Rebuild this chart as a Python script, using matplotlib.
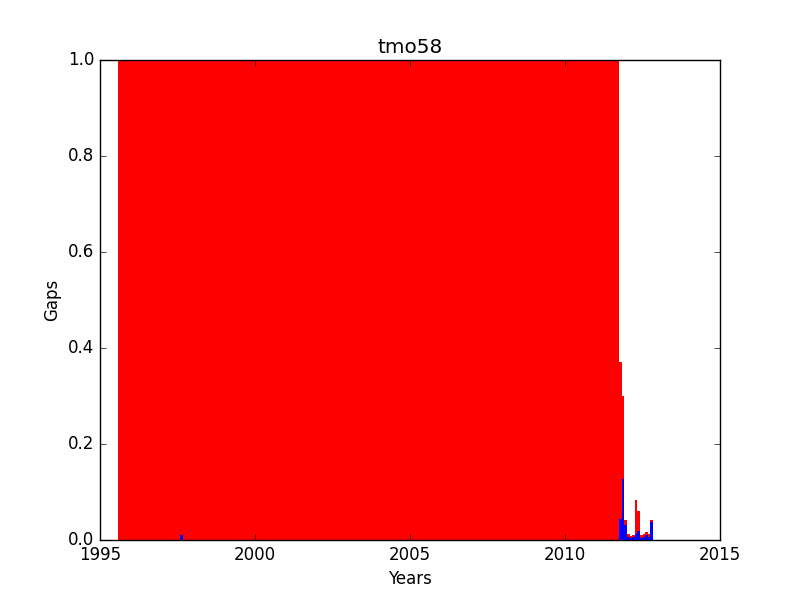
import matplotlib
matplotlib.use('Agg')
import matplotlib.pyplot as plt
import numpy as np

# monthly gap fractions, first month is Aug 1995
first_year = 1995
first_month = 8

red_gaps = [
    1.0, 1.0, 1.0, 1.0, 1.0,                                                  # 1995 Aug-Dec
    1.0, 1.0, 1.0, 1.0, 1.0, 1.0, 1.0, 1.0, 1.0, 1.0, 1.0, 1.0,               # 1996
    1.0, 1.0, 1.0, 1.0, 1.0, 1.0, 1.0, 1.0, 1.0, 1.0, 1.0, 1.0,               # 1997
    1.0, 1.0, 1.0, 1.0, 1.0, 1.0, 1.0, 1.0, 1.0, 1.0, 1.0, 1.0,               # 1998
    1.0, 1.0, 1.0, 1.0, 1.0, 1.0, 1.0, 1.0, 1.0, 1.0, 1.0, 1.0,               # 1999
    1.0, 1.0, 1.0, 1.0, 1.0, 1.0, 1.0, 1.0, 1.0, 1.0, 1.0, 1.0,               # 2000
    1.0, 1.0, 1.0, 1.0, 1.0, 1.0, 1.0, 1.0, 1.0, 1.0, 1.0, 1.0,               # 2001
    1.0, 1.0, 1.0, 1.0, 1.0, 1.0, 1.0, 1.0, 1.0, 1.0, 1.0, 1.0,               # 2002
    1.0, 1.0, 1.0, 1.0, 1.0, 1.0, 1.0, 1.0, 1.0, 1.0, 1.0, 1.0,               # 2003
    1.0, 1.0, 1.0, 1.0, 1.0, 1.0, 1.0, 1.0, 1.0, 1.0, 1.0, 1.0,               # 2004
    1.0, 1.0, 1.0, 1.0, 1.0, 1.0, 1.0, 1.0, 1.0, 1.0, 1.0, 1.0,               # 2005
    1.0, 1.0, 1.0, 1.0, 1.0, 1.0, 1.0, 1.0, 1.0, 1.0, 1.0, 1.0,               # 2006
    1.0, 1.0, 1.0, 1.0, 1.0, 1.0, 1.0, 1.0, 1.0, 1.0, 1.0, 1.0,               # 2007
    1.0, 1.0, 1.0, 1.0, 1.0, 1.0, 1.0, 1.0, 1.0, 1.0, 1.0, 1.0,               # 2008
    1.0, 1.0, 1.0, 1.0, 1.0, 1.0, 1.0, 1.0, 1.0, 1.0, 1.0, 1.0,               # 2009
    1.0, 1.0, 1.0, 1.0, 1.0, 1.0, 1.0, 1.0, 1.0, 1.0, 1.0, 1.0,               # 2010
    1.0, 1.0, 1.0, 1.0, 1.0, 1.0, 1.0, 1.0, 1.0, 0.37, 0.30, 0.042,           # 2011
    0.0125, 0.008, 0.010, 0.083, 0.060, 0.010, 0.0125, 0.017, 0.0125, 0.042,  # 2012 Jan-Oct
]

blue_gaps = [
    0.0, 0.0, 0.0, 0.0, 0.0,                                                  # 1995 Aug-Dec
    0.0, 0.0, 0.0, 0.0, 0.0, 0.0, 0.0, 0.0, 0.0, 0.0, 0.0, 0.0,               # 1996
    0.0, 0.0, 0.0, 0.0, 0.0, 0.0, 0.0, 0.010, 0.0, 0.0, 0.0, 0.0,             # 1997
    0.0, 0.0, 0.0, 0.0, 0.0, 0.0, 0.0, 0.0, 0.0, 0.0, 0.0, 0.0,               # 1998
    0.0, 0.0, 0.0, 0.0, 0.0, 0.0, 0.0, 0.0, 0.0, 0.0, 0.0, 0.0,               # 1999
    0.0, 0.0, 0.0, 0.0, 0.0, 0.0, 0.0, 0.0, 0.0, 0.0, 0.0, 0.0,               # 2000
    0.0, 0.0, 0.0, 0.0, 0.0, 0.0, 0.0, 0.0, 0.0, 0.0, 0.0, 0.0,               # 2001
    0.0, 0.0, 0.0, 0.0, 0.0, 0.0, 0.0, 0.0, 0.0, 0.0, 0.0, 0.0,               # 2002
    0.0, 0.0, 0.0, 0.0, 0.0, 0.0, 0.0, 0.0, 0.0, 0.0, 0.0, 0.0,               # 2003
    0.0, 0.0, 0.0, 0.0, 0.0, 0.0, 0.0, 0.0, 0.0, 0.0, 0.0, 0.0,               # 2004
    0.0, 0.0, 0.0, 0.0, 0.0, 0.0, 0.0, 0.0, 0.0, 0.0, 0.0, 0.0,               # 2005
    0.0, 0.0, 0.0, 0.0, 0.0, 0.0, 0.0, 0.0, 0.0, 0.0, 0.0, 0.0,               # 2006
    0.0, 0.0, 0.0, 0.0, 0.0, 0.0, 0.0, 0.0, 0.0, 0.0, 0.0, 0.0,               # 2007
    0.0, 0.0, 0.0, 0.0, 0.0, 0.0, 0.0, 0.0, 0.0, 0.0, 0.0, 0.0,               # 2008
    0.0, 0.0, 0.0, 0.0, 0.0, 0.0, 0.0, 0.0, 0.0, 0.0, 0.0, 0.0,               # 2009
    0.0, 0.0, 0.0, 0.0, 0.0, 0.0, 0.0, 0.0, 0.0, 0.0, 0.0, 0.0,               # 2010
    0.0, 0.0, 0.0, 0.0, 0.0, 0.0, 0.0, 0.0, 0.0, 0.044, 0.127, 0.031,         # 2011
    0.006, 0.004, 0.006, 0.0125, 0.019, 0.004, 0.006, 0.010, 0.006, 0.038,    # 2012 Jan-Oct
]

station = 'tmo58'


def month_positions(n):
	idx = np.arange(n) + (first_month - 1)
	return first_year + idx / 12.0


def main():
	plt.style.use('classic')
	fig = plt.figure(figsize=(8, 6), dpi=100, facecolor='white')
	ax = fig.add_subplot(111)

	x = month_positions(len(red_gaps))
	ax.bar(x, red_gaps, width=1.0 / 12, align='edge', color='red', linewidth=0)
	ax.bar(x, blue_gaps, width=1.0 / 12, align='edge', color='blue', linewidth=0)

	ax.set_xlim(1995, 2015)
	ax.set_ylim(0, 1.0)
	ax.set_xticks([1995, 2000, 2005, 2010, 2015])
	ax.get_xaxis().get_major_formatter().set_useOffset(False)
	ax.set_title(station)
	ax.set_xlabel('Years')
	ax.set_ylabel('Gaps')
	fig.savefig('out.png', dpi=100, facecolor='white')


if __name__ == "__main__":
	main()
